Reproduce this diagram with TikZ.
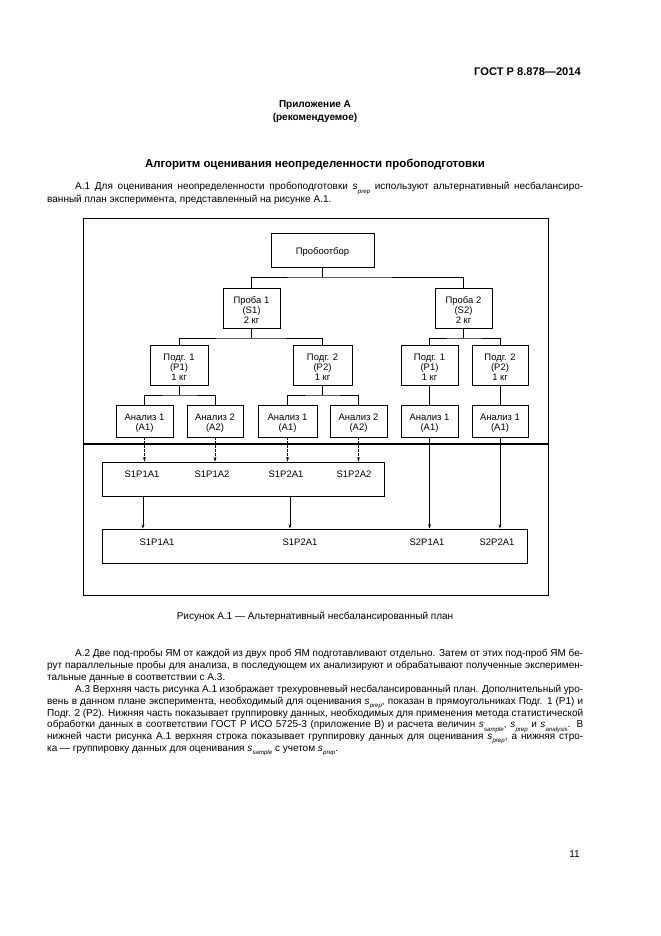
\documentclass[tikz,border=0pt]{standalone}
\usepackage{fontspec}
\setmainfont{Liberation Sans}
\usetikzlibrary{arrows.meta,fit}
\newcommand{\ssub}[1]{\textit{s}\kern0.2pt\raisebox{-0.6ex}{\fontsize{5.5}{6}\selectfont\itshape #1}}
\newcommand{\jline}[1]{\makebox[482.4pt][s]{#1}}
\newcommand{\jind}[1]{\makebox[457.2pt][s]{#1}}
\begin{document}
\begin{tikzpicture}[x=0.9pt,y={(0pt,-0.9pt)},
  box/.style={draw, line width=0.6pt, inner sep=0pt},
  btext/.style={inner sep=0pt, align=center, font=\fontsize{8.5}{9}\selectfont},
  grp/.style={draw, line width=0.6pt, inner sep=0pt},
  lbl/.style={inner sep=0pt, anchor=mid, font=\fontsize{8.5}{9}\selectfont},
  body/.style={anchor=mid west, inner sep=0pt, font=\fontsize{9}{10.8}\selectfont},
  ctext/.style={anchor=mid, inner sep=0pt, font=\fontsize{9}{10.8}\selectfont},
  tree/.style={line width=0.6pt},
  arr/.style={line width=0.6pt, -{Stealth[length=4pt,width=2.6pt]}},
  dasharr/.style={arr, dash pattern=on 2pt off 1.6pt}]
\useasboundingbox[fill=white] (0,0) rectangle (661,936);

% header
\node[anchor=mid east, inner sep=0pt, font=\fontsize{10}{12}\bfseries] (hdr) at (581,72.5) {ГОСТ Р 8.878—2014};
\node[ctext, font=\fontsize{9}{10.8}\bfseries] (app) at (315,105) {Приложение А};
\node[ctext, font=\fontsize{9}{10.8}\bfseries] (rec) at (315,118) {(рекомендуемое)};
\node[ctext, font=\fontsize{10.3}{12}\bfseries] (ttl) at (315,165) {Алгоритм оценивания неопределенности пробоподготовки};

% A.1
\node[body] (a1l1) at (75,187) {\jind{А.1 Для оценивания неопределенности пробоподготовки \ssub{prep} используют альтернативный несбалансиро-}};
\node[body] (a1l2) at (47,200) {ванный план эксперимента, представленный на рисунке А.1.};

% frame
\node[grp, line width=0.75pt, fit={(83,218) (548,595)}] (frame) {};
\coordinate (divL) at (83,444);
\coordinate (divR) at (548,444);
\draw[line width=1.1pt] (divL) -- (divR);

% boxes
\node[box, fit={(271,233) (374,267)}] (root) {};
\node[box, fit={(223,288) (280,328)}] (s1) {};
\node[box, fit={(435,288) (492,328)}] (s2) {};
\node[box, fit={(150,345) (208,385)}] (p11) {};
\node[box, fit={(293,345) (352,385)}] (p12) {};
\node[box, fit={(401,345) (458,385)}] (p21) {};
\node[box, fit={(472,345) (528,385)}] (p22) {};
\node[box, fit={(116,405) (173,437)}] (a111) {};
\node[box, fit={(187,405) (243,437)}] (a112) {};
\node[box, fit={(258,405) (317,437)}] (a121) {};
\node[box, fit={(330,405) (387,437)}] (a122) {};
\node[box, fit={(401,405) (458,437)}] (a211) {};
\node[box, fit={(472,405) (528,437)}] (a221) {};

\node[btext] (root-t) at ([yshift=-2pt]root.center) {Пробоотбор};
\node[btext] (s1-t) at ([yshift=-2pt]s1.center) {Проба 1\\(S1)\\2 кг};
\node[btext] (s2-t) at ([yshift=-2pt]s2.center) {Проба 2\\(S2)\\2 кг};
\node[btext] (p11-t) at ([yshift=-2pt]p11.center) {Подг. 1\\(P1)\\1 кг};
\node[btext] (p12-t) at ([yshift=-2pt]p12.center) {Подг. 2\\(P2)\\1 кг};
\node[btext] (p21-t) at ([yshift=-2pt]p21.center) {Подг. 1\\(P1)\\1 кг};
\node[btext] (p22-t) at ([yshift=-2pt]p22.center) {Подг. 2\\(P2)\\1 кг};
\node[btext] (a111-t) at ([yshift=-2pt]a111.center) {Анализ 1\\(A1)};
\node[btext] (a112-t) at ([yshift=-2pt]a112.center) {Анализ 2\\(A2)};
\node[btext] (a121-t) at ([yshift=-2pt]a121.center) {Анализ 1\\(A1)};
\node[btext] (a122-t) at ([yshift=-2pt]a122.center) {Анализ 2\\(A2)};
\node[btext] (a211-t) at ([yshift=-2pt]a211.center) {Анализ 1\\(A1)};
\node[btext] (a221-t) at ([yshift=-2pt]a221.center) {Анализ 1\\(A1)};

% tree connectors
\coordinate (j0) at (322.5,277);
\coordinate (j1) at (251.5,338);
\coordinate (j2) at (463.5,338);
\coordinate (j11) at (179,395);
\coordinate (j12) at (322.5,395);
\draw[tree] (root.south) -- (j0);
\draw[tree] (s1.north) |- (j0) -| (s2.north);
\draw[tree] (s1.south) -- (j1);
\draw[tree] (p11.north) |- (j1) -| (p12.north);
\draw[tree] (s2.south) -- (j2);
\draw[tree] (p21.north) |- (j2) -| (p22.north);
\draw[tree] (p11.south) -- (j11);
\draw[tree] (a111.north) |- (j11) -| (a112.north);
\draw[tree] (p12.south) -- (j12);
\draw[tree] (a121.north) |- (j12) -| (a122.north);
\draw[tree] (p21.south) -- (a211.north);
\draw[tree] (p22.south) -- (a221.north);

% grouping boxes
\node[grp, fit={(102,462) (384,496)}] (g1) {};
\node[grp, fit={(102,529) (527,563)}] (g2) {};
\node[lbl] (t1) at (142,474.5) {S1P1A1};
\node[lbl] (t2) at (212,474.5) {S1P1A2};
\node[lbl] (t3) at (286,474.5) {S1P2A1};
\node[lbl] (t4) at (354,474.5) {S1P2A2};
\node[lbl] (u1) at (157,543) {S1P1A1};
\node[lbl] (u2) at (300,543) {S1P2A1};
\node[lbl] (u3) at (427,543) {S2P1A1};
\node[lbl] (u4) at (497,543) {S2P2A1};

% arrows
\draw[dasharr] (a111.south) -- (a111.south |- g1.north);
\draw[dasharr] (a112.south) -- (a112.south |- g1.north);
\draw[dasharr] (a121.south) -- (a121.south |- g1.north);
\draw[dasharr] (a122.south) -- (a122.south |- g1.north);
\coordinate (g1a) at (143,496);
\coordinate (g1b) at (290,496);
\draw[arr] (g1a) -- (g1a |- g2.north);
\draw[arr] (g1b) -- (g1b |- g2.north);
\draw[arr] (a211.south) -- (a211.south |- g2.north);
\draw[arr] (a221.south) -- (a221.south |- g2.north);

% caption
\node[ctext] (cap) at (315,617) {Рисунок А.1 — Альтернативный несбалансированный план};

% A.2
\node[body] (a2l1) at (75,654) {\jind{А.2 Две под-пробы ЯМ от каждой из двух проб ЯМ подготавливают отдельно. Затем от этих под-проб ЯМ бе-}};
\node[body] (a2l2) at (47,666) {\jline{рут параллельные пробы для анализа, в последующем их анализируют и обрабатывают полученные эксперимен-}};
\node[body] (a2l3) at (47,678) {тальные данные в соответствии с А.3.};

% A.3
\node[body] (a3l1) at (75,690) {\jind{А.3 Верхняя часть рисунка А.1 изображает трехуровневый несбалансированный план. Дополнительный уро-}};
\node[body] (a3l2) at (47,701.7) {\jline{вень в данном плане эксперимента, необходимый для оценивания \ssub{prep}, показан в прямоугольниках Подг. 1 (P1) и}};
\node[body] (a3l3) at (47,713.4) {\jline{Подг. 2 (P2). Нижняя часть показывает группировку данных, необходимых для применения метода статистической}};
\node[body] (a3l4) at (47,725) {\jline{обработки данных в соответствии ГОСТ Р ИСО 5725-3 (приложение В) и расчета величин \ssub{sample}, \ssub{prep} и \ssub{analysis}. В}};
\node[body] (a3l5) at (47,736.7) {\jline{нижней части рисунка А.1 верхняя строка показывает группировку данных для оценивания \ssub{prep}, а нижняя стро-}};
\node[body] (a3l6) at (47,748.4) {ка — группировку данных для оценивания \ssub{sample} с учетом \ssub{prep}.};

% page number
\node[anchor=mid east, inner sep=0pt, font=\fontsize{9}{10.8}\selectfont] (pg) at (580,855) {11};
\end{tikzpicture}
\end{document}
